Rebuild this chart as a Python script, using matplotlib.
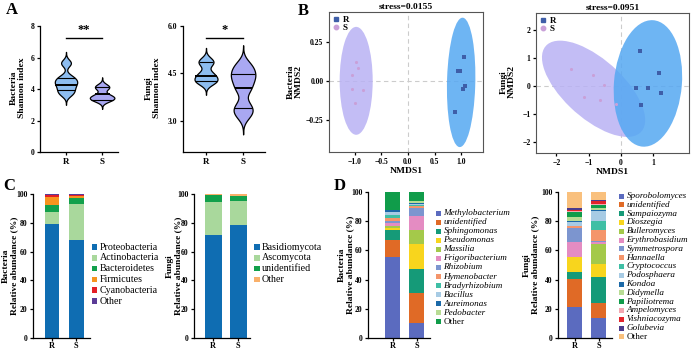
import numpy as np
import matplotlib
matplotlib.use("Agg")
import matplotlib.pyplot as plt
from matplotlib.patches import Ellipse, Rectangle
from matplotlib.lines import Line2D

plt.rcParams['font.family'] = ['Liberation Serif', 'DejaVu Serif']
plt.rcParams['axes.linewidth'] = 0.9
plt.rcParams['xtick.major.width'] = 0.9
plt.rcParams['ytick.major.width'] = 0.9
plt.rcParams['xtick.major.size'] = 2.5
plt.rcParams['ytick.major.size'] = 2.5

# ---------------- DATA ----------------
groups = ["R", "S"]

# A: Shannon index (sample values shape the violins; quartiles)
bac_shannon_R = [3.70, 4.00, 4.30, 4.50, 4.75, 5.65]
bac_shannon_S = [3.28, 3.38, 3.48, 3.62, 4.05, 4.20]
fun_shannon_R = [4.20, 4.27, 4.38, 4.50, 4.80, 4.92]
fun_shannon_S = [3.20, 3.45, 4.00, 4.30, 4.50, 4.75]
bac_quart_R = [3.94, 4.26, 4.69]
bac_quart_S = [3.33, 3.67, 4.10]
fun_quart_R = [4.25, 4.40, 4.85]
fun_quart_S = [3.40, 4.03, 4.48]
bac_sig = "**"
fun_sig = "*"
bac_sig_y = 7.25
fun_sig_y = 5.62

# B: NMDS
bac_stress = "0.0155"
fun_stress = "0.0951"
bac_R_x = [1.05, 0.94, 0.98, 1.07, 1.03, 0.88]
bac_R_y = [0.15, 0.06, 0.06, -0.03, -0.05, -0.20]
bac_S_x = [-0.98, -0.93, -1.04, -1.05, -0.85, -0.99]
bac_S_y = [0.12, 0.08, 0.04, -0.05, -0.06, -0.14]
fun_R_x = [0.59, 1.18, 0.46, 0.84, 1.24, 0.63]
fun_R_y = [1.24, 0.45, -0.08, -0.08, -0.26, -0.68]
fun_S_x = [-1.55, -0.87, -0.53, -1.14, -0.65, -0.16]
fun_S_y = [0.60, 0.38, 0.05, -0.40, -0.50, -0.65]
# confidence ellipses: centre x, centre y, width, height, angle
bac_R_ell = [1.00, -0.01, 0.53, 0.83, -6]
bac_S_ell = [-0.97, 0.00, 0.62, 0.69, 0]
fun_R_ell = [0.83, 0.09, 2.10, 4.50, -4]
fun_S_ell = [-0.85, -0.10, 4.25, 1.95, -48]

# C: phylum level
bac_phyla = ["Proteobacteria", "Actinobacteria", "Bacteroidetes", "Firmicutes", "Cyanobacteria", "Other"]
bac_phyla_R = [79.2, 8.2, 5.1, 5.4, 1.4, 0.7]
bac_phyla_S = [67.8, 25.2, 4.0, 1.4, 0.8, 0.8]
fun_phyla = ["Basidiomycota", "Ascomycota", "unidentified", "Other"]
fun_phyla_R = [71.2, 23.0, 5.1, 0.7]
fun_phyla_S = [78.3, 16.9, 3.6, 1.2]

# D: genus level
bac_genera = ["Methylobacterium", "unidentified", "Sphingomonas", "Pseudomonas", "Massilia",
              "Frigoribacterium", "Rhizobium", "Hymenobacter", "Bradyrhizobium", "Bacillus",
              "Aureimonas", "Pedobacter", "Other"]
bac_genera_R = [55.5, 11.5, 7.0, 1.5, 1.5, 1.5, 1.5, 2.0, 2.0, 2.5, 1.0, 0.5, 12.0]
bac_genera_S = [10.4, 20.3, 16.3, 17.5, 9.7, 9.1, 5.4, 1.8, 0.9, 0.7, 0.7, 1.3, 5.9]
fun_genera = ["Sporobolomyces", "unidentified", "Sampaiozyma", "Dioszegia", "Bulleromyces",
              "Erythrobasidium", "Symmetrospora", "Hannaella", "Cryptococcus", "Podosphaera",
              "Kondoa", "Didymella", "Papiliotrema", "Ampelomyces", "Vishniacozyma",
              "Golubevia", "Other"]
fun_genera_R = [21.0, 19.5, 4.5, 10.3, 0.2, 10.5, 9.3, 1.2, 0.5, 2.5, 0.3, 3.3, 3.4, 0.6, 0.3, 1.4, 11.2]
fun_genera_S = [14.0, 10.0, 17.5, 9.5, 13.5, 1.5, 0.3, 7.9, 6.0, 6.5, 1.3, 1.0, 1.8, 1.0, 2.2, 0.5, 5.5]

# ---------------- STYLE ----------------
phy_bac_colors = ["#0f6db2", "#a9d89c", "#12a04b", "#f7941e", "#e31e25", "#5b3b96"]
phy_fun_colors = ["#0f6db2", "#a9d89c", "#12a04b", "#f9b06a"]
gen_bac_colors = ["#5b6bbf", "#e06a26", "#159a78", "#f8d51d", "#a4c94a", "#e48cc2", "#7c95cf",
                  "#f4956b", "#3fbfa5", "#a7cbe4", "#1b69a8", "#b8dc94", "#109c4a"]
gen_fun_colors = ["#5b6bbf", "#e06a26", "#159a78", "#f8d51d", "#a4c94a", "#e48cc2", "#7c95cf",
                  "#f4956b", "#3fbfa5", "#a7cbe4", "#1b69a8", "#b8dc94", "#109c4a", "#f3a7b1",
                  "#e3242b", "#4b3b8c", "#f9c07d"]
VIO_R = "#8dbdf0"
VIO_S = "#a9a8f2"
ELL_R = "#55a8f2"
ELL_S = "#b9b2f4"
PT_R = "#3e5ea8"
PT_S = "#c9a0d8"

W, H = 692, 352
fig = plt.figure(figsize=(W / 100, H / 100), dpi=100)


def add_ax(l, t, r, b):
    return fig.add_axes([l / W, 1 - b / H, (r - l) / W, (b - t) / H])


def ftext(x, y, s, **kw):
    return fig.text(x / W, 1 - y / H, s, **kw)


TICK = dict(labelsize=5.5, pad=1.5)


def bold_ticks(ax):
    for lab in ax.get_xticklabels() + ax.get_yticklabels():
        lab.set_fontweight('bold')


def violin(ax, pos, samples, quarts, bw, color, width=0.62, cut=3.2):
    s = np.asarray(samples, float)
    y = np.linspace(s.min() - cut * bw, s.max() + cut * bw, 400)
    d = np.exp(-0.5 * ((y[:, None] - s[None, :]) / bw) ** 2).sum(1)
    d = d / d.max() * width / 2
    ax.fill_betweenx(y, pos - d, pos + d, facecolor=color, edgecolor='black', lw=0.9, zorder=2)
    for i, q in enumerate(quarts):
        dq = np.interp(q, y, d)
        ax.plot([pos - dq, pos + dq], [q, q], color='black', lw=1.4 if i == 1 else 0.8, zorder=3,
                solid_capstyle='butt')


def style_open(ax):
    ax.spines['top'].set_visible(False)
    ax.spines['right'].set_visible(False)
    ax.tick_params(**TICK)


# ---------------- PANEL A ----------------
axA1 = add_ax(40, 26, 118, 152)
violin(axA1, 1, bac_shannon_R, bac_quart_R, 0.22, VIO_R)
violin(axA1, 2, bac_shannon_S, bac_quart_S, 0.17, VIO_S, width=0.68)
axA1.set_xlim(0.28, 2.44)
axA1.set_ylim(0, 8)
axA1.set_yticks([0, 2, 4, 6, 8])
axA1.set_xticks([1, 2])
axA1.set_xticklabels(groups)
style_open(axA1)
axA1.tick_params(axis='x', labelsize=6.5)
bold_ticks(axA1)
axA1.plot([1, 2], [bac_sig_y, bac_sig_y], color='black', lw=1.0, clip_on=False)
axA1.text(1.5, bac_sig_y + 0.1, bac_sig, ha='center', va='bottom', fontsize=9, fontweight='bold')

axA2 = add_ax(183, 26, 265, 152)
violin(axA2, 1, fun_shannon_R, fun_quart_R, 0.12, VIO_R)
violin(axA2, 2, fun_shannon_S, fun_quart_S, 0.20, VIO_S, width=0.66)
axA2.set_xlim(0.38, 2.59)
axA2.set_ylim(2.0, 6.0)
axA2.set_yticks([3.0, 4.5, 6.0])
axA2.set_yticklabels(["3.0", "4.5", "6.0"])
axA2.set_xticks([1, 2])
axA2.set_xticklabels(groups)
style_open(axA2)
axA2.tick_params(axis='x', labelsize=6.5)
bold_ticks(axA2)
axA2.plot([1, 2], [fun_sig_y, fun_sig_y], color='black', lw=1.0, clip_on=False)
axA2.text(1.5, fun_sig_y + 0.05, fun_sig, ha='center', va='bottom', fontsize=9, fontweight='bold')

LAB = dict(fontsize=6.8, fontweight='bold', rotation=90, ha='center', va='center', linespacing=1.05)
ftext(18, 88, "Bacteria\nShannon index", **LAB)
ftext(153, 88, "Fungi\nShannon index", **LAB)

# ---------------- PANEL B ----------------
def nmds(ax, rx, ry, sx, sy, rell, sell, stress):
    ax.axvline(0, color='#cccccc', lw=0.8, ls=(0, (4, 3)), zorder=0)
    ax.axhline(0, color='#cccccc', lw=0.8, ls=(0, (4, 3)), zorder=0)
    ax.add_patch(Ellipse((sell[0], sell[1]), sell[2], sell[3], angle=sell[4],
                         facecolor=ELL_S, edgecolor='none', alpha=0.85, zorder=1))
    ax.add_patch(Ellipse((rell[0], rell[1]), rell[2], rell[3], angle=rell[4],
                         facecolor=ELL_R, edgecolor='none', alpha=0.85, zorder=2))
    ax.scatter(rx, ry, marker='s', s=5, color=PT_R, zorder=4, linewidths=0)
    ax.scatter(sx, sy, marker='o', s=5, color=PT_S, zorder=4, linewidths=0)
    ax.tick_params(**TICK)
    for sp in ax.spines.values():
        sp.set_color('#555555')
        sp.set_linewidth(0.8)
    ax.set_title("stress=" + stress, fontsize=6.8, fontweight='bold', pad=2)
    ax.set_xlabel("NMDS1", fontsize=6.8, fontweight='bold', labelpad=1)
    h = [Line2D([], [], marker='s', ls='', color=PT_R, markersize=3.2),
         Line2D([], [], marker='o', ls='', color=PT_S, markersize=3.2)]
    ax.legend(h, groups, loc='upper left', frameon=False, handlelength=0.8,
              handletextpad=0.3, labelspacing=0.0, borderaxespad=0.3, borderpad=0.1,
              prop={'weight': 'bold', 'size': 6.5})


axB1 = add_ax(329, 12, 483, 152)
nmds(axB1, bac_R_x, bac_R_y, bac_S_x, bac_S_y, bac_R_ell, bac_S_ell, bac_stress)
axB1.set_xlim(-1.48, 1.41)
axB1.set_ylim(-0.455, 0.44)
axB1.set_xticks([-1.0, -0.5, 0.0, 0.5, 1.0])
axB1.set_xticklabels(["\u22121.0", "\u22120.5", "0.0", "0.5", "1.0"])
axB1.set_yticks([-0.25, 0.0, 0.25])
axB1.set_yticklabels(["\u22120.25", "0.00", "0.25"])
bold_ticks(axB1)

axB2 = add_ax(536, 13, 689, 153)
nmds(axB2, fun_R_x, fun_R_y, fun_S_x, fun_S_y, fun_R_ell, fun_S_ell, fun_stress)
axB2.set_xlim(-2.63, 2.1)
axB2.set_ylim(-2.38, 2.59)
axB2.set_xticks([-2, -1, 0, 1])
axB2.set_xticklabels(["\u22122", "\u22121", "0", "1"])
axB2.set_yticks([-2, -1, 0, 1, 2])
axB2.set_yticklabels(["\u22122", "\u22121", "0", "1", "2"])
bold_ticks(axB2)

ftext(295, 82, "Bacteria\nNMDS2", **LAB)
ftext(508, 82, "Fungi\nNMDS2", **LAB)

# ---------------- PANELS C, D ----------------
def stacked(ax, vals_R, vals_S, colors, width):
    for xpos, vals in ((1, vals_R), (2, vals_S)):
        bottom = 0.0
        for v, c in zip(vals, colors):
            ax.bar(xpos, v, width=width, bottom=bottom, color=c, edgecolor='none', zorder=2)
            bottom += v
    ax.set_ylim(0, 100)
    ax.set_yticks([0, 20, 40, 60, 80, 100])
    ax.set_xticks([1, 2])
    ax.set_xticklabels(groups)
    style_open(ax)
    ax.tick_params(axis='x', labelsize=6.0, pad=0.6, length=2.0)
    bold_ticks(ax)


def legend_px(x, y0, dy, labels, colors, size, italic=False, box=5.5):
    for i, (lab, c) in enumerate(zip(labels, colors)):
        y = y0 + i * dy
        fig.patches.append(Rectangle(((x) / W, 1 - (y + box / 2) / H), box / W, box / H,
                                     transform=fig.transFigure, facecolor=c, edgecolor='none'))
        style = 'italic' if (italic and lab != "Other") else 'normal'
        ftext(x + box + 2.5, y, lab, fontsize=size, style=style, va='center', ha='left')


axC1 = add_ax(33, 194, 90, 338)
stacked(axC1, bac_phyla_R, bac_phyla_S, phy_bac_colors, 0.62)
axC1.set_xlim(0.21, 2.58)
legend_px(92, 247, 10.8, bac_phyla, phy_bac_colors, 7.2)
ftext(10, 266, "Bacteria\nRelative abundance (%)", **LAB)

axC2 = add_ax(194, 194, 250, 338)
stacked(axC2, fun_phyla_R, fun_phyla_S, phy_fun_colors, 0.68)
axC2.set_xlim(0.24, 2.48)
legend_px(254, 247, 10.8, fun_phyla, phy_fun_colors, 7.2)
ftext(174, 266, "Fungi\nRelative abundance (%)", **LAB)

axD1 = add_ax(368, 192, 430, 338)
stacked(axD1, bac_genera_R, bac_genera_S, gen_bac_colors, 0.62)
axD1.set_xlim(-0.02, 2.56)
legend_px(436, 213, 9.08, bac_genera, gen_bac_colors, 6.6, italic=True, box=5)
ftext(346, 265, "Bacteria\nRelative abundance (%)", **LAB)

axD2 = add_ax(558, 192, 612, 338)
stacked(axD2, fun_genera_R, fun_genera_S, gen_fun_colors, 0.62)
axD2.set_xlim(0.31, 2.56)
legend_px(619, 196, 8.8, fun_genera, gen_fun_colors, 6.6, italic=True, box=5)
ftext(531, 265, "Fungi\nRelative abundance (%)", **LAB)

# panel letters
for s, x, y in (("A", 12, 10), ("B", 303, 11), ("C", 9, 186), ("D", 340, 186)):
    ftext(x, y, s, fontsize=12, fontweight='bold', ha='center', va='center')

fig.savefig("out.png", dpi=100)
